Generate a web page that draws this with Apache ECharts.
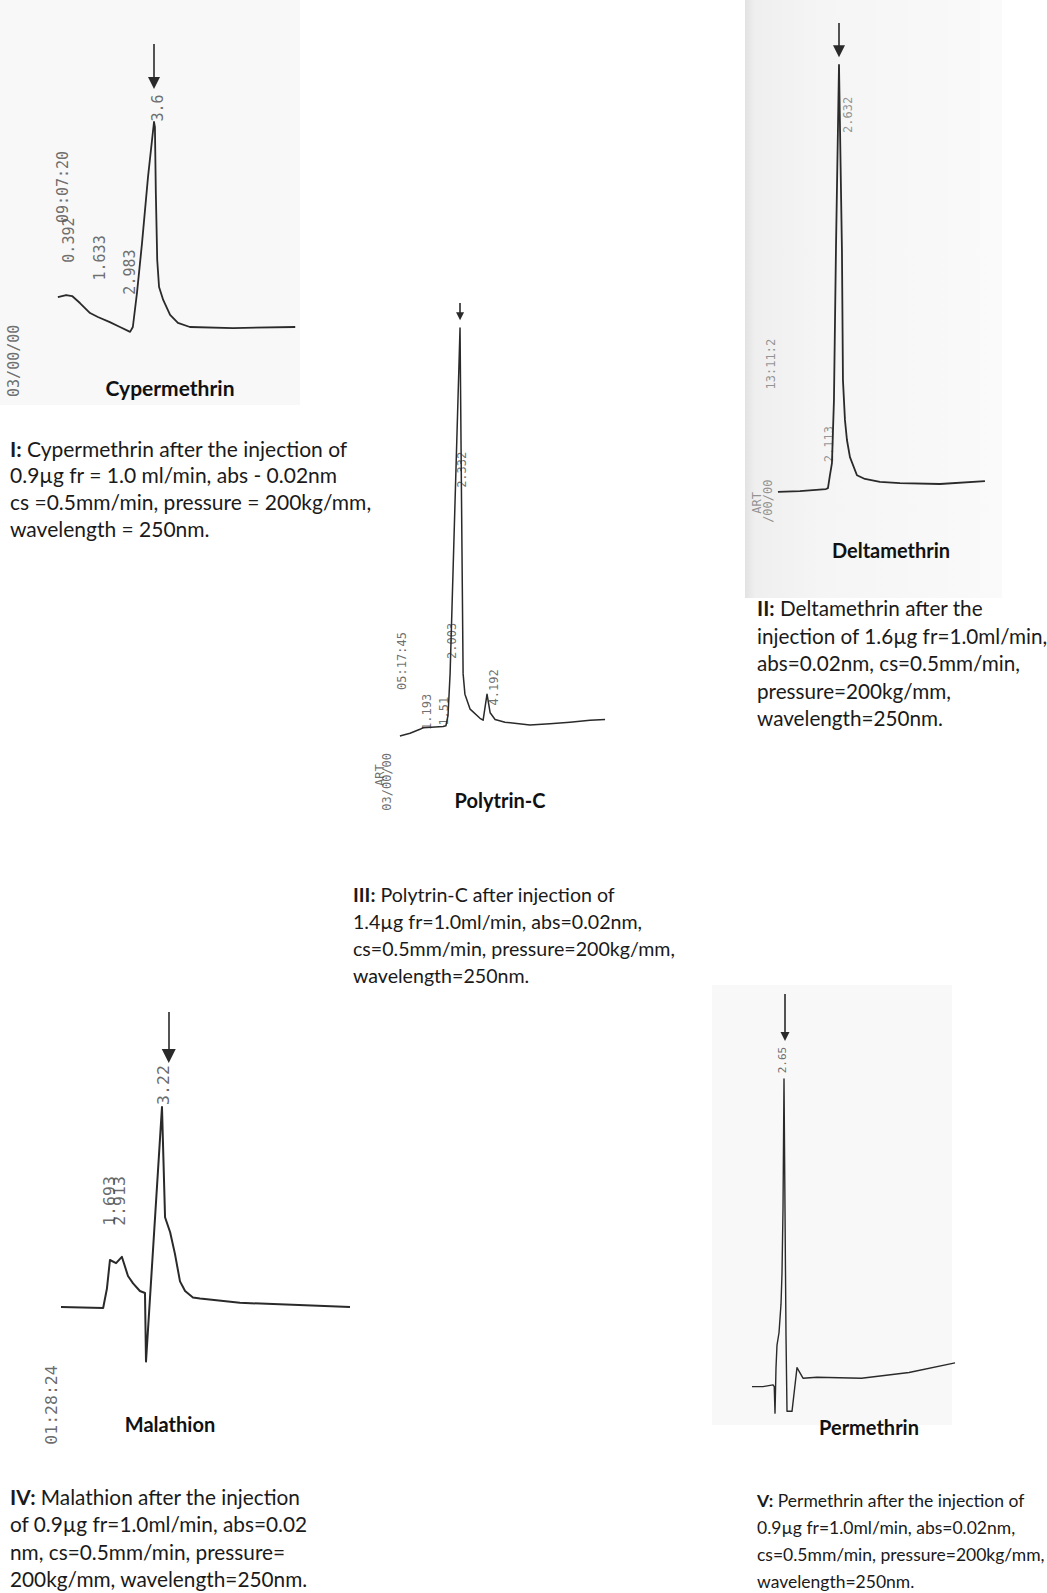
<!DOCTYPE html>
<html><head><meta charset="utf-8">
<script src="https://cdn.jsdelivr.net/npm/echarts/dist/echarts.min.js"></script>
<style>html,body{margin:0;padding:0;background:#fff}#c{width:1047px;height:1593px}</style>
</head><body><div id="c"></div>
<script>
// ---------- data (time in min, signal in % of main peak height) ----------
const cyperTime   = [1.41,1.59,1.72,1.89,2.11,2.28,2.54,2.76,2.98,3.04,3.13,3.24,3.37,3.50,3.52,3.54,3.57,3.61,3.70,3.85,4.02,4.28,5.22,6.57];
const cyperSignal = [14.6,15.6,15.1,11.7,6.8,4.9,2.4,0,-2.4,0,16.6,41.0,73.2,100,97.6,65.4,32.7,19.5,13.2,5.9,2.0,0,-0.5,0];
const cyperLabels = ['3.6','09:07:20','0.392','1.633','2.983','03/00/00'];
const cyperLabelTime   = [3.59,1.52,1.65,2.33,2.98,0.46];
const cyperLabelSignal = [106.8,68.3,42.4,33.7,26.8,-16.5];
const cyperArrow = [3.5,138,119];

const deltaTime   = [0.19,1.07,2.11,2.19,2.27,2.35,2.43,2.51,2.632,2.75,2.79,2.87,2.95,3.07,3.35,3.67,4.27,5.07,6.67,8.47];
const deltaSignal = [-1.9,-1.7,-1.2,-1.0,2.1,5.0,20.0,55.8,100,55.8,24.8,15.3,10.5,6.4,2.1,1.2,0.5,0.2,0,0.7];
const deltaLabels = ['2.632','13:11:2','2.113','ART','/00/00'];
const deltaLabelTime   = [2.99,-0.09,2.23,-0.65,-0.2];
const deltaLabelSignal = [88.1,28.6,9.5,-4.5,-4.1];
const deltaArrow = [2.632,110,103.3];

const polyTime   = [0.02,0.41,0.79,0.91,1.68,1.79,1.87,1.95,2.14,2.332,2.39,2.45,2.52,2.72,3.10,3.22,3.37,3.49,3.68,4.06,5.02,5.79,6.56,7.33,7.91];
const polySignal = [-3.3,-2.6,-1.6,-1.2,-0.9,-0.7,1.9,12.5,56.0,100,56.0,12.5,7.3,3.5,1.2,0.7,7.3,2.6,0.9,0.2,-0.5,-0.2,0.2,0.7,0.9];
const polyLabels = ['2.332','2.003','05:17:45','4.192','1.193','1.51','ART','03/00/00'];
const polyLabelTime   = [2.41,2.02,0.10,3.64,1.06,1.72,-0.75,-0.48];
const polyLabelSignal = [64.1,20.8,15.7,9.0,2.8,3.0,-13.2,-14.9];
const polyArrow = [2.332,106.3,103.0];

const malaTime   = [0.25,1.49,1.60,1.69,1.87,2.04,2.22,2.37,2.57,2.72,2.75,3.22,3.31,3.46,3.60,3.75,3.90,4.13,4.34,5.51,8.75];
const malaSignal = [0,-0.5,9.1,23.5,21.9,25.1,15.5,11.8,8.0,7.0,-27.3,100,44.9,37.4,26.7,12.8,8.0,4.8,4.3,2.1,0];
const malaLabels = ['3.22','1.693','2.913','01:28:24'];
const malaLabelTime   = [3.27,1.69,1.98,-0.02];
const malaLabelSignal = [111,53,53,-49];
const malaArrow = [3.42,147.5,125.5];

const permTime   = [1.37,1.81,2.21,2.26,2.29,2.33,2.37,2.45,2.53,2.57,2.61,2.65,2.69,2.73,2.77,2.97,3.17,3.41,3.97,5.75,7.65,9.49];
const permSignal = [-2.2,-2.2,-1.6,-2.2,-11.0,4.1,11.6,15.7,25.2,35.5,56.6,100,56.6,14.8,-10.4,-10.4,4.1,0.6,0.9,0.6,2.5,5.7];
const permLabels = ['2.65'];
const permLabelTime   = [2.58];
const permLabelSignal = [106.3];
const permArrow = [2.69,128.2,114.1];

const titles = ['Cypermethrin','Deltamethrin','Polytrin-C','Malathion','Permethrin'];
const captions = [
  ['{b|I:} Cypermethrin after the injection of','0.9µg fr = 1.0 ml/min, abs - 0.02nm','cs =0.5mm/min, pressure = 200kg/mm,','wavelength = 250nm.'],
  ['{b|II:} Deltamethrin after the','injection of 1.6µg fr=1.0ml/min,','abs=0.02nm, cs=0.5mm/min,','pressure=200kg/mm,','wavelength=250nm.'],
  ['{b|III:} Polytrin-C after injection of','1.4µg fr=1.0ml/min, abs=0.02nm,','cs=0.5mm/min, pressure=200kg/mm,','wavelength=250nm.'],
  ['{b|IV:} Malathion after the injection','of 0.9µg fr=1.0ml/min, abs=0.02','nm, cs=0.5mm/min, pressure=','200kg/mm, wavelength=250nm.'],
  ['{b|V:} Permethrin after the injection of','0.9µg fr=1.0ml/min, abs=0.02nm,','cs=0.5mm/min, pressure=200kg/mm,','wavelength=250nm.']
];

// ---------- layout ----------
const panels = [
  {grid:{left:2.2,top:40,width:294.4,height:360.8}, x:[0.2,6.6], y:[-36,140], t:cyperTime, v:cyperSignal, lt:cyperLabels, lx:cyperLabelTime, ly:cyperLabelSignal, arrow:cyperArrow, lw:1.8, fs:15, lc:'#4a4a4a', as:12},
  {grid:{left:748.2,top:18.91,width:250,height:527.94}, x:[-1,9], y:[-15,111], t:deltaTime, v:deltaSignal, lt:deltaLabels, lx:deltaLabelTime, ly:deltaLabelSignal, arrow:deltaArrow, lw:1.8, fs:12, lc:'#7a7a7a', as:12},
  {grid:{left:373.4,top:296.4,width:234,height:513.5}, x:[-1,8], y:[-22,108], t:polyTime, v:polySignal, lt:polyLabels, lx:polyLabelTime, ly:polyLabelSignal, arrow:polyArrow, lw:1.5, fs:12, lc:'#4a4a4a', as:8},
  {grid:{left:35.5,top:977,width:323,height:474}, x:[-0.5,9], y:[-72,165], t:malaTime, v:malaSignal, lt:malaLabels, lx:malaLabelTime, ly:malaLabelSignal, arrow:malaArrow, lw:2, fs:16.5, lc:'#444', as:14},
  {grid:{left:742.75,top:988.7,width:225,height:448.5}, x:[1,10], y:[-19,130], t:permTime, v:permSignal, lt:permLabels, lx:permLabelTime, ly:permLabelSignal, arrow:permArrow, lw:1.4, fs:11, lc:'#4a4a4a', as:9}
];
const titlePos = [[170,387,21],[891,550,20],[500,800,20],[170,1424,20],[869,1427,20]];
const capPos = [
  {x:10,y:448,dy:26.7,fs:21},
  {x:757,y:608,dy:27.5,fs:20.7},
  {x:353,y:894,dy:27,fs:19.6},
  {x:10,y:1496,dy:27.5,fs:20.8},
  {x:757,y:1500,dy:27.3,fs:17.5}
];

const ink = '#2a2a2a';
const grids=[], xAxes=[], yAxes=[], series=[];
panels.forEach((p,i)=>{
  grids.push(Object.assign({containLabel:false}, p.grid));
  xAxes.push({type:'value', gridIndex:i, min:p.x[0], max:p.x[1], show:false});
  yAxes.push({type:'value', gridIndex:i, min:p.y[0], max:p.y[1], show:false});
  series.push({
    type:'line', xAxisIndex:i, yAxisIndex:i, symbol:'none', showSymbol:false, clip:false, silent:true, animation:false,
    data:p.t.map((t,j)=>[t,p.v[j]]),
    lineStyle:{color:ink, width:p.lw, join:'round'},
    markLine:{silent:true, animation:false, symbol:['none','triangle'], symbolSize:p.as,
      itemStyle:{color:ink}, lineStyle:{color:ink, width:1.6, type:'solid'}, label:{show:false},
      data:[[{coord:[p.arrow[0],p.arrow[1]]},{coord:[p.arrow[0],p.arrow[2]]}]]}
  });
  series.push({
    type:'scatter', xAxisIndex:i, yAxisIndex:i, symbolSize:1, silent:true, animation:false,
    itemStyle:{color:'rgba(0,0,0,0)'},
    data:p.lt.map((s,j)=>({name:s, value:[p.lx[j],p.ly[j]]})),
    label:{show:true, position:'inside', rotate:90, formatter:'{b}', fontFamily:'DejaVu Sans Mono', fontSize:p.fs, color:p.lc}
  });
});

const graphics = [
  {type:'rect', z:-10, shape:{x:0,y:0,width:300,height:405}, style:{fill:'#f8f8f8'}},
  {type:'rect', z:-10, shape:{x:745,y:0,width:257,height:598}, style:{fill:{type:'linear',x:0,y:0,x2:1,y2:0,colorStops:[{offset:0,color:'#e2e2e2'},{offset:0.04,color:'#efefef'},{offset:0.3,color:'#f5f5f5'},{offset:1,color:'#fafafa'}]}}},
  {type:'rect', z:-10, shape:{x:712,y:985,width:240,height:440}, style:{fill:'#f8f8f8'}}
];
titles.forEach((t,i)=>{
  graphics.push({type:'text', z:10, x:titlePos[i][0], y:titlePos[i][1],
    style:{text:t, fontFamily:'Lato', fontWeight:'bold', fontSize:titlePos[i][2], fill:'#111', align:'center', verticalAlign:'middle'}});
});
captions.forEach((lines,i)=>{
  const c = capPos[i];
  lines.forEach((ln,j)=>{
    graphics.push({type:'text', z:10, x:c.x, y:c.y + j*c.dy,
      style:{text:ln, fontFamily:'Lato', fontSize:c.fs, fill:'#1a1a1a', align:'left', verticalAlign:'middle',
        rich:{b:{fontFamily:'Lato', fontWeight:'bold', fontSize:c.fs, fill:'#1a1a1a'}}}});
  });
});

const chart = echarts.init(document.getElementById('c'), null, {renderer:'svg'});
chart.setOption({
  animation:false, backgroundColor:'#fff',
  grid:grids, xAxis:xAxes, yAxis:yAxes, series:series,
  graphic:{elements:graphics}
});
</script></body></html>
